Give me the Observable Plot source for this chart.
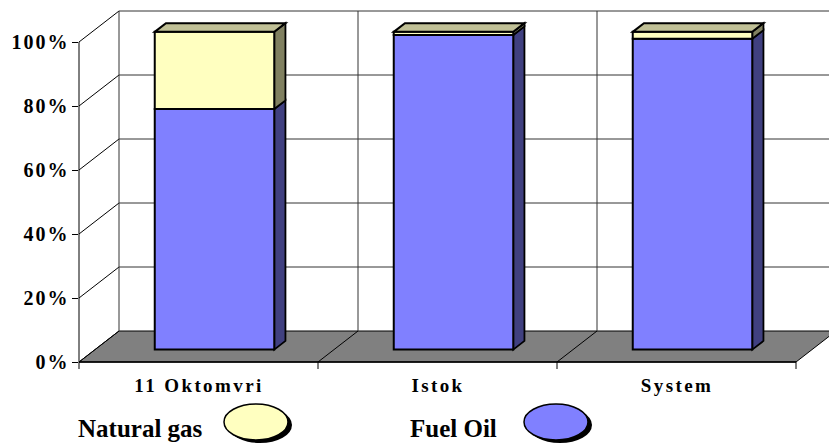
<!DOCTYPE html>
<html>
<head>
<meta charset="utf-8">
<script src="https://cdn.jsdelivr.net/npm/d3@7"></script>
<script src="https://cdn.jsdelivr.net/npm/@observablehq/plot@0.6"></script>
<style>
  body { margin: 0; background: #fff; }
  #wrap { position: relative; width: 829px; height: 447px; overflow: hidden; background: #fff; }
  #legend { position: absolute; left: 0; top: 400px; width: 829px; height: 47px; }
  .lg-text { position: absolute; font-family: 'Liberation Serif', 'Times New Roman', serif; font-weight: bold; font-size: 25px; color: #000; line-height: 1; white-space: nowrap; }
  .lg-sym { position: absolute; }
  #chart svg g[aria-label="y-axis tick label"],
  #chart svg g[aria-label="y-axis tick label"] text {
    font-family: 'Liberation Serif', 'Times New Roman', serif !important;
    font-size: 20px !important; font-weight: bold !important; letter-spacing: 2px;
  }
  #chart svg g[aria-label="x-axis tick label"],
  #chart svg g[aria-label="x-axis tick label"] text {
    font-family: 'Liberation Serif', 'Times New Roman', serif !important;
    font-size: 19px !important; font-weight: bold !important; letter-spacing: 2.4px;
  }
</style>
</head>
<body>
<div id="wrap">
  <div id="chart"></div>
  <div id="legend"></div>
</div>
<script>
// ---- data ----
const categories = ["11 Oktomvri", "Istok", "System"];
const fuelOil    = [75.7, 99.0, 97.8];
const naturalGas = [24.3, 1.0, 2.2];
const seriesNames = ["Fuel Oil", "Natural gas"];
const yTicks = [0, 20, 40, 60, 80, 100];
const legendOrder = ["Natural gas", "Fuel Oil"];

// ---- styles ----
const faceColors = {
  "Fuel Oil":    { front: "#8080ff", side: "#404080", top: "#a0a0e0" },
  "Natural gas": { front: "#ffffc0", side: "#808060", top: "#c0c096" }
};
const DX = 40, DY = -31;       // full floor depth offset (px)
const T0 = 0.40, T1 = 0.68;    // bar front / back depth fractions
const BAR_L = 0.25, BAR_R = 0.75; // bar extent within band
const BAR_SHRINK = 0.993;      // slight perspective on bar height
const gridColor = "#333";
const FONT = "'Liberation Serif', 'Times New Roman', serif";

// stacked segments built from the arrays
const segments = [];
categories.forEach((c, i) => {
  const vals = { "Fuel Oil": fuelOil[i], "Natural gas": naturalGas[i] };
  let acc = 0;
  seriesNames.forEach(s => {
    segments.push({ category: c, series: s, y0: acc, y1: acc + vals[s] });
    acc += vals[s];
  });
});

function scene(index, scales) {
  const x = scales.x, y = scales.y;
  const bw = x.bandwidth();
  const xs = categories.map(c => x(c));
  const x0 = xs[0], xE = xs[xs.length - 1] + bw;
  const yb = y(0), yt = y(100);
  const g = d3.create("svg:g");
  const poly = (pts, fill, stroke, sw) =>
    g.append("polygon").attr("points", pts.map(p => p.join(",")).join(" "))
      .attr("fill", fill).attr("stroke", stroke).attr("stroke-width", sw)
      .attr("stroke-linejoin", "miter");
  const line = (a, b, stroke, sw) =>
    g.append("line").attr("x1", a[0]).attr("y1", a[1]).attr("x2", b[0]).attr("y2", b[1])
      .attr("stroke", stroke).attr("stroke-width", sw);

  // back wall (white)
  poly([[x0 + DX, yt + DY], [xE + DX, yt + DY], [xE + DX, yb + DY], [x0 + DX, yb + DY]], "white", "none", 0);
  // floor
  poly([[x0, yb], [xE, yb], [xE + DX, yb + DY], [x0 + DX, yb + DY]], "#808080", "#000", 1);
  // back gridlines + left wall diagonals
  yTicks.forEach(t => {
    const yy = y(t);
    if (t > 0) line([x0 + DX, yy + DY], [xE + DX, yy + DY], gridColor, 1);
    line([x0, yy], [x0 + DX, yy + DY], "#000", 1);
  });
  // back vertical lines at category boundaries
  const bounds = xs.concat([xE]);
  bounds.forEach(bx => line([bx + DX, yt + DY], [bx + DX, yb + DY], gridColor, 1));
  // floor diagonals at inner boundaries
  xs.slice(1).forEach(bx => line([bx, yb], [bx + DX, yb + DY], "#000", 1));
  // front axis line + bottom edge
  line([x0, yb], [x0, yt], "#000", 1);
  line([x0, yb], [xE, yb], "#000", 1.5);
  // category tick marks
  bounds.forEach(bx => line([bx, yb], [bx, yb + 7], "#000", 1));

  // bars
  categories.forEach(c => {
    const xl = x(c) + bw * BAR_L, xr = x(c) + bw * BAR_R;
    const segs = segments.filter(d => d.category === c);
    const P = (px, v, t) => [px + DX * t, yb + (y(v) - yb) * BAR_SHRINK + DY * t];
    segs.forEach(d => {
      const col = faceColors[d.series];
      poly([P(xr, d.y0, T0), P(xr, d.y0, T1), P(xr, d.y1, T1), P(xr, d.y1, T0)], col.side, "#000", 1.8);
    });
    segs.forEach(d => {
      const col = faceColors[d.series];
      poly([P(xl, d.y0, T0), P(xr, d.y0, T0), P(xr, d.y1, T0), P(xl, d.y1, T0)], col.front, "#000", 2);
    });
    const top = segs[segs.length - 1];
    poly([P(xl, top.y1, T0), P(xr, top.y1, T0), P(xr, top.y1, T1), P(xl, top.y1, T1)], faceColors[top.series].top, "#000", 2);
  });
  return g.node();
}

const chart = Plot.plot({
  width: 829,
  height: 400,
  marginLeft: 78,
  marginRight: 33,
  marginTop: 42,
  marginBottom: 38,
  x: { type: "band", domain: categories, padding: 0, axis: null },
  y: { domain: [0, 100], axis: null },
  style: { fontFamily: FONT, color: "#000", background: "white" },
  marks: [
    scene,
    Plot.axisY({ ticks: yTicks, tickFormat: d => d + "%", tickSize: 6, tickPadding: 3, fontSize: 20, fontWeight: "bold" }),
    Plot.axisX({ tickSize: 0, tickPadding: 16, fontSize: 19, fontWeight: "bold" })
  ]
});
document.getElementById("chart").appendChild(chart);

// legend
const legend = document.getElementById("legend");
const legendPos = { "Natural gas": { text: 78, sym: 222 }, "Fuel Oil": { text: 410, sym: 522 } };
legendOrder.forEach(name => {
  const p = legendPos[name];
  const t = document.createElement("div");
  t.className = "lg-text";
  t.textContent = name;
  t.style.left = p.text + "px";
  t.style.top = "16px";
  legend.appendChild(t);
  const svg = d3.create("svg").attr("class", "lg-sym").attr("width", 80).attr("height", 47)
    .style("left", p.sym + "px").style("top", "0px");
  svg.append("ellipse").attr("cx", 38).attr("cy", 25).attr("rx", 32).attr("ry", 18).attr("fill", "#000");
  svg.append("ellipse").attr("cx", 34).attr("cy", 22).attr("rx", 32).attr("ry", 18)
    .attr("fill", faceColors[name].front).attr("stroke", "#000").attr("stroke-width", 1.5);
  legend.appendChild(svg.node());
});
</script>
</body>
</html>
